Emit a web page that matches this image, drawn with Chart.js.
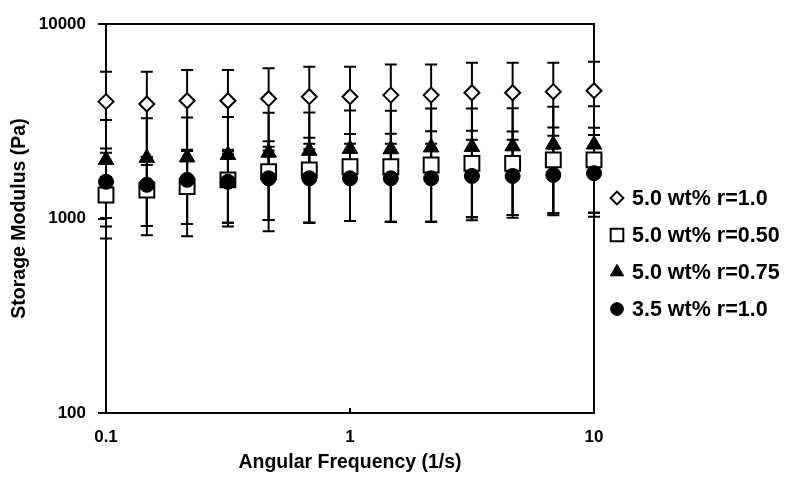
<!DOCTYPE html>
<html>
<head>
<meta charset="utf-8">
<script src="https://cdn.jsdelivr.net/npm/chart.js@4/dist/chart.umd.min.js"></script>
<style>
  html, body { margin: 0; padding: 0; background: #fff; }
  canvas { display: block; }
</style>
</head>
<body>
<canvas id="chart" width="786" height="479"></canvas>
<script>
// Frequencias (1/s)
const freq = [0.1, 0.147, 0.215, 0.316, 0.464, 0.681, 1, 1.47, 2.15, 3.16, 4.64, 6.81, 10];

// Storage modulus (Pa) e desvios de cada serie
const diamondVals = [3990, 3880, 4030, 4030, 4130, 4230, 4230, 4310, 4310, 4430, 4430, 4490, 4540];
const diamondErr  = [1700, 1810, 1770, 1770, 1790, 1805, 1805, 1890, 1890, 1890, 1890, 1830, 1850];
const squareVals  = [1320, 1400, 1460, 1580, 1740, 1775, 1845, 1845, 1885, 1920, 1920, 2000, 2000];
const squareErr   = [315, 485, 523, 629, 758, 824, 874, 882, 922, 906, 878, 937, 929];
const triVals     = [2000, 2050, 2060, 2120, 2180, 2230, 2280, 2270, 2320, 2330, 2350, 2400, 2400];
const triErr      = [1210, 1230, 1250, 1210, 1320, 1280, 1310, 1310, 1360, 1350, 1340, 1360, 1380];
const circleVals  = [1545, 1490, 1580, 1545, 1610, 1610, 1610, 1610, 1610, 1655, 1655, 1675, 1710];
const circleErr   = [636, 575, 643, 594, 628, 659, 639, 647, 647, 641, 613, 612, 639];

const seriesLabels = ['5.0 wt% r=1.0', '5.0 wt% r=0.50', '5.0 wt% r=0.75', '3.5 wt% r=1.0'];

const xTicks = [0.1, 1, 10];
const yTicks = [100, 1000, 10000];

const FONT = '"Liberation Sans", Arial, Helvetica, sans-serif';

function pontos(vals) {
  return vals.map((v, i) => ({ x: freq[i], y: v }));
}

const datasets = [
  { label: seriesLabels[0], data: pontos(diamondVals), errors: diamondErr,
    pointStyle: 'rectRot', pointRadius: 7.5, backgroundColor: '#fff', borderColor: '#000', borderWidth: 2, order: 4, clip: false },
  { label: seriesLabels[1], data: pontos(squareVals), errors: squareErr,
    pointStyle: 'rect', pointRadius: 10.5, backgroundColor: '#fff', borderColor: '#000', borderWidth: 2, order: 3, clip: false },
  { label: seriesLabels[2], data: pontos(triVals), errors: triErr,
    pointStyle: 'triangle', pointRadius: 9, backgroundColor: '#000', borderColor: '#000', borderWidth: 1, order: 2, clip: false },
  { label: seriesLabels[3], data: pontos(circleVals), errors: circleErr,
    pointStyle: 'circle', pointRadius: 7.5, backgroundColor: '#000', borderColor: '#000', borderWidth: 1, order: 1, clip: false }
];

// Moldura da area do grafico + barras de erro (por baixo dos marcadores)
const errorBars = {
  id: 'errorBars',
  beforeDatasetsDraw(chart) {
    const { ctx, chartArea: a, scales: { x, y } } = chart;
    ctx.save();
    ctx.strokeStyle = '#000';
    ctx.lineWidth = 2;
    ctx.strokeRect(a.left, a.top, a.right - a.left, a.bottom - a.top);

    // ticks do eixo x para dentro
    xTicks.forEach(t => {
      const px = x.getPixelForValue(t);
      ctx.beginPath();
      ctx.moveTo(px, a.bottom);
      ctx.lineTo(px, a.bottom - 5);
      ctx.stroke();
    });

    chart.data.datasets.forEach(ds => {
      ds.data.forEach((p, i) => {
        const e = ds.errors[i];
        const px = x.getPixelForValue(p.x);
        const yTop = y.getPixelForValue(p.y + e);
        const yBot = y.getPixelForValue(p.y - e);
        ctx.beginPath();
        ctx.moveTo(px, yTop);
        ctx.lineTo(px, yBot);
        ctx.moveTo(px - 6, yTop);
        ctx.lineTo(px + 6, yTop);
        ctx.moveTo(px - 6, yBot);
        ctx.lineTo(px + 6, yBot);
        ctx.stroke();
      });
    });
    ctx.restore();
  }
};

// Legenda desenhada a direita
const legendaDireita = {
  id: 'legendaDireita',
  afterDraw(chart) {
    const { ctx } = chart;
    const x0 = 617;
    const y0 = 198;
    const step = 37;
    ctx.save();
    chart.data.datasets.forEach((ds, i) => {
      const cy = y0 + i * step;
      ctx.fillStyle = ds.backgroundColor;
      ctx.strokeStyle = ds.borderColor;
      ctx.lineWidth = ds.borderWidth;
      Chart.helpers.drawPoint(ctx, {
        pointStyle: ds.pointStyle,
        radius: ds.pointRadius * 0.85,
        rotation: 0,
        borderWidth: ds.borderWidth
      }, x0, cy);
      ctx.fillStyle = '#000';
      ctx.font = 'bold 21.5px ' + FONT;
      ctx.textBaseline = 'middle';
      ctx.textAlign = 'left';
      ctx.fillText(ds.label, x0 + 15, cy + 1);
    });
    ctx.restore();
  }
};

const ctx = document.getElementById('chart').getContext('2d');
new Chart(ctx, {
  type: 'scatter',
  data: { datasets: datasets },
  options: {
    responsive: false,
    animation: false,
    layout: { padding: { top: 24, right: 192, left: 0, bottom: 0 } },
    plugins: {
      legend: { display: false },
      tooltip: { enabled: false }
    },
    scales: {
      x: {
        type: 'logarithmic',
        min: 0.1,
        max: 10,
        afterBuildTicks: s => { s.ticks = xTicks.map(v => ({ value: v })); },
        afterFit: s => { s.height = 66; },
        grid: { display: true, drawOnChartArea: false, drawTicks: false },
        border: { display: true, color: '#000', width: 2 },
        ticks: {
          color: '#000',
          padding: 14,
          font: { family: FONT, size: 17, weight: 'bold' },
          callback: v => String(v)
        },
        title: {
          display: true,
          text: 'Angular Frequency (1/s)',
          color: '#000',
          font: { family: FONT, size: 19.5, weight: 'bold' },
          padding: { top: 0, bottom: 5 }
        }
      },
      y: {
        type: 'logarithmic',
        min: 100,
        max: 10000,
        afterBuildTicks: s => { s.ticks = yTicks.map(v => ({ value: v })); },
        afterFit: s => { s.width = 106; },
        grid: { display: true, drawOnChartArea: false, drawTicks: true, tickLength: 8, color: '#000', lineWidth: 2 },
        border: { display: true, color: '#000', width: 2 },
        ticks: {
          color: '#000',
          padding: 12,
          font: { family: FONT, size: 17, weight: 'bold' },
          callback: v => String(v)
        },
        title: {
          display: true,
          text: 'Storage Modulus (Pa)',
          color: '#000',
          font: { family: FONT, size: 19.5, weight: 'bold' },
          padding: { top: 8, bottom: 0 }
        }
      }
    }
  },
  plugins: [errorBars, legendaDireita]
});
</script>
</body>
</html>
